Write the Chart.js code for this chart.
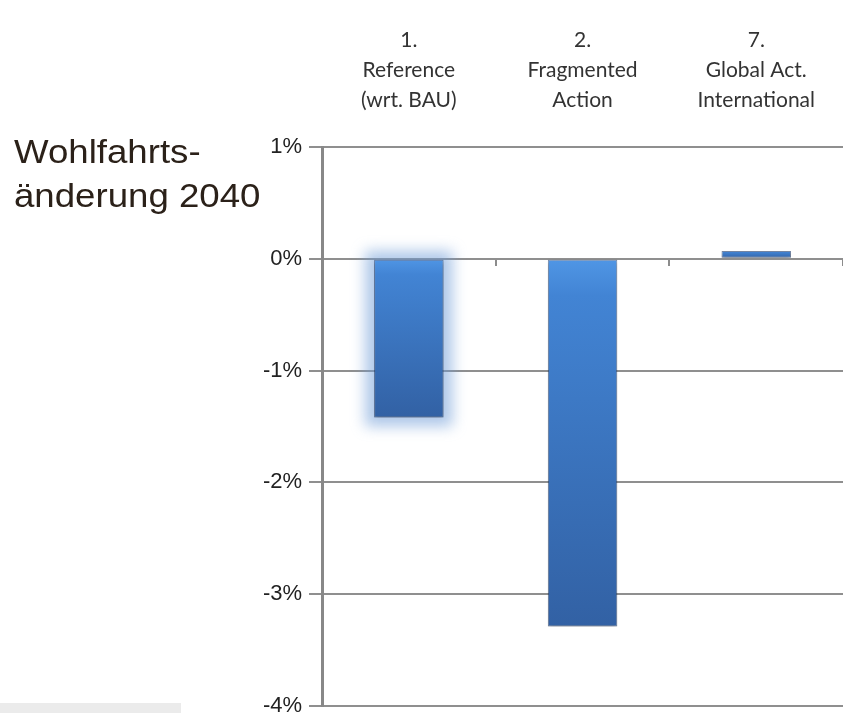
<!DOCTYPE html>
<html>
<head>
<meta charset="utf-8">
<script src="https://cdn.jsdelivr.net/npm/chart.js@4/dist/chart.umd.min.js"></script>
<style>
  html, body { margin: 0; padding: 0; background: #ffffff; overflow: hidden; }
  #wrap { position: relative; width: 843px; height: 726px; overflow: hidden; }
  #chart { position: absolute; left: 0; top: 0; }
  #ylabel { position: absolute; left: 14px; top: 130px; font-family: "Liberation Sans", Arial, sans-serif;
            font-size: 33px; line-height: 44px; color: #2b2119; white-space: nowrap;
            transform: scaleX(1.11); transform-origin: 0 0; }
  #strip { position: absolute; left: 0; top: 703px; width: 181px; height: 10px; background: #ebebeb; }
</style>
</head>
<body>
<div id="wrap">
  <canvas id="chart" width="847" height="726"></canvas>
  <div id="ylabel">Wohlfahrts-<br>änderung 2040</div>
  <div id="strip"></div>
</div>
<script>
// ---- data ----
const categories = [
  ["1.", "Reference", "(wrt. BAU)"],
  ["2.", "Fragmented", "Action"],
  ["7.", "Global Act.", "International"]
];
const welfareChange = [-1.42, -3.29, 0.07];   // percent, 2040
const yTickValues = [1, 0, -1, -2, -3, -4];
const yMin = -4, yMax = 1;

function barGradient(ctx) {
  const chart = ctx.chart;
  const y = chart.scales && chart.scales.y;
  if (!chart.chartArea || !y) return '#3a74bf';
  const v = ctx.raw;
  const p0 = y.getPixelForValue(0);
  const p1 = y.getPixelForValue(v);
  const top = Math.min(p0, p1), bot = Math.max(p0, p1);
  const g = chart.ctx.createLinearGradient(0, top, 0, bot + 0.01);
  g.addColorStop(0, '#5096e5');
  g.addColorStop(0.10, '#4284d4');
  g.addColorStop(1, '#3261a4');
  return g;
}

const glowPlugin = {
  id: 'glow',
  beforeDatasetsDraw(chart) {
    const meta = chart.getDatasetMeta(0);
    const el = meta.data[0];
    if (!el) return;
    const c = chart.ctx;
    const left = el.x - el.width / 2, right = el.x + el.width / 2;
    const top = Math.min(el.y, el.base), bot = Math.max(el.y, el.base);
    c.save();
    c.filter = 'blur(7px)';
    c.fillStyle = 'rgba(110,155,215,0.55)';
    c.fillRect(left - 9, top - 9, right - left + 18, bot - top + 18);
    c.restore();
  },
  beforeDatasetDraw(chart) {
    const c = chart.ctx;
    c.save();
    c.shadowColor = 'rgba(0,0,0,0.35)';
    c.shadowBlur = 4;
    c.shadowOffsetY = 2;
  },
  afterDatasetDraw(chart) {
    chart.ctx.restore();
  }
};

new Chart(document.getElementById('chart'), {
  type: 'bar',
  data: {
    labels: categories,
    datasets: [{
      data: welfareChange,
      backgroundColor: barGradient,
      borderColor: 'rgba(35,65,115,0.6)',
      borderWidth: 1,
      borderSkipped: false,
      categoryPercentage: 1,
      barPercentage: 0.40,
      xAxisID: 'x',
      yAxisID: 'y'
    }]
  },
  options: {
    responsive: false,
    animation: false,
    devicePixelRatio: 1,
    layout: { padding: { left: 0, right: 0, top: 0, bottom: 13 } },
    plugins: { legend: { display: false }, tooltip: { enabled: false } },
    scales: {
      x: {
        type: 'category',
        position: 'top',
        offset: true,
        grid: { display: false, drawTicks: false },
        border: { display: false },
        ticks: {
          color: '#333333',
          font: { family: 'Lato, "Open Sans", sans-serif', size: 21, lineHeight: 1.43 },
          padding: 32,
          maxRotation: 0,
          autoSkip: false
        },
        afterFit(scale) { scale.height = 147; }
      },
      x2: {
        type: 'category',
        position: { y: 0 },
        offset: true,
        grid: { display: true, offset: true, drawOnChartArea: false, drawTicks: true,
                tickLength: 7, color: '#8c8c8c', lineWidth: 2 },
        border: { display: false },
        ticks: { display: false }
      },
      y: {
        type: 'linear',
        min: yMin,
        max: yMax,
        afterBuildTicks(scale) { scale.ticks = yTickValues.map(v => ({ value: v })); },
        grid: { color: '#8f8f8f', lineWidth: 2, tickLength: 13, drawTicks: true },
        border: { display: true, color: '#888888', width: 3 },
        ticks: {
          color: '#222222',
          font: { family: '"Liberation Sans", Arial, sans-serif', size: 22 },
          padding: 7,
          callback: v => v + '%'
        },
        afterFit(scale) { scale.width = 322; }
      }
    }
  },
  plugins: [glowPlugin]
});
</script>
</body>
</html>
